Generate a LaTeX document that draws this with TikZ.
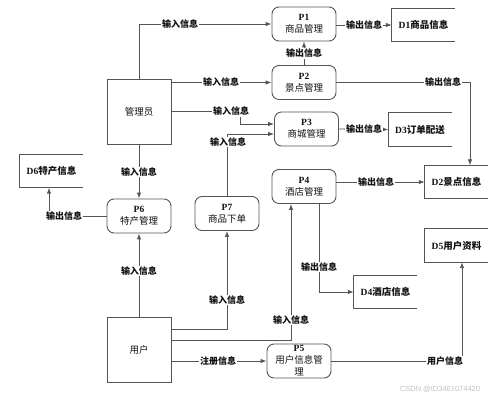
\documentclass[tikz,border=0pt]{standalone}
\usepackage{fontspec}
\setmainfont{Liberation Serif}
\newfontfamily\cjk{Noto Sans CJK SC}
\newfontfamily\wmfont{Liberation Sans}
\usetikzlibrary{arrows.meta}
\definecolor{lc}{HTML}{555555}
\definecolor{tc}{HTML}{111111}
\tikzset{
  conn/.style={draw=lc, line width=0.9pt},
  arr/.style={conn, -{Latex[length=6pt,width=4.5pt]}},
  proc/.style={draw=lc, line width=0.9pt, rounded corners=7pt, minimum width=64pt, minimum height=34pt,
    align=center, inner sep=0pt, text=tc, font=\fontsize{9.5}{12}\selectfont},
  ent/.style={draw=lc, line width=0.9pt, minimum width=64pt, minimum height=65pt, inner sep=0pt,
    text=tc, font=\cjk\fontsize{9.5}{12}\selectfont},
  store/.style={minimum width=63pt, minimum height=33pt, inner sep=0pt, text=tc,
    font=\bfseries\fontsize{9.5}{12}\selectfont},
  lbl/.style={fill=white, inner sep=0.8pt, text=tc, font=\cjk\bfseries\fontsize{9}{10}\selectfont},
}
\newcommand{\opstore}[1]{\draw[conn] (#1.north east) -- (#1.north west) -- (#1.south west) -- (#1.south east);}
\begin{document}
\begin{tikzpicture}[x=1pt,y=-1pt]
\useasboundingbox (0,0) rectangle (499,398);
% entities
\node[ent] (admin) at (139,111.5) {管理员};
\node[ent] (user) at (139,350) {用户};
% processes
\node[proc] (p1) at (304,24) {\textbf{P1}\\{\cjk 商品管理}};
\node[proc] (p2) at (304,82.5) {\textbf{P2}\\{\cjk 景点管理}};
\node[proc] (p3) at (306.5,129) {\textbf{P3}\\{\cjk 商城管理}};
\node[proc] (p4) at (304,186.5) {\textbf{P4}\\{\cjk 酒店管理}};
\node[proc] (p7) at (227,213.5) {\textbf{P7}\\{\cjk 商品下单}};
\node[proc] (p6) at (139,216) {\textbf{P6}\\{\cjk 特产管理}};
\node[proc] (p5) at (299,361) {\textbf{P5}\\{\cjk 用户信息管}\\{\cjk 理}};
% stores
\node[store] (d1) at (423.5,25) {D1{\cjk\bfseries 商品信息}};
\node[store] (d3) at (420,129.5) {D3{\cjk\bfseries 订单配送}};
\node[store] (d2) at (456.5,182) {D2{\cjk\bfseries 景点信息}};
\node[store] (d6) at (51.5,171) {D6{\cjk\bfseries 特产信息}};
\node[store] (d5) at (456.5,245.5) {D5{\cjk\bfseries 用户资料}};
\node[store] (d4) at (385.5,292) {D4{\cjk\bfseries 酒店信息}};
\opstore{d1}\opstore{d3}\opstore{d2}\opstore{d6}\opstore{d5}\opstore{d4}
% connectors
\coordinate (c3) at (240,111.5);
\draw[arr] (admin.north) |- (p1.west);
\draw[arr] (admin.east |- p2.west) -- (p2.west);
\draw[arr] (admin.east) -- (c3) |- ([yshift=5pt]p3.west);
\draw[arr] (p7.north) |- ([yshift=-5pt]p3.west);
\draw[arr] (admin.south) -- (p6.north);
\draw[arr] (p6.west) -| ([xshift=-2.5pt]d6.south);
\draw[arr] (user.north) -- (p6.south);
\draw[arr] ([yshift=21pt]user.east) -| (p7.south);
\draw[arr] ([yshift=10pt]user.east) -| ([xshift=-13pt]p4.south);
\draw[arr] (user.east |- p5.west) -- (p5.west);
\draw[arr] (p5.east) -| ([xshift=5.5pt]d5.south);
\draw[arr] ([xshift=15pt]p4.south) |- (d4.west);
\draw[arr] (p4.east |- d2.west) -- (d2.west);
\draw[arr] (p2.east) -| ([xshift=13.5pt]d2.north);
\draw[arr] (p3.east) -- (d3.west);
\draw[arr] (p1.east |- d1.west) -- (d1.west);
% labels
\node[lbl] (l1) at (180,24) {输入信息};
\node[lbl] (l2) at (221,82.5) {输入信息};
\node[lbl] (l3) at (231,111.5) {输入信息};
\node[lbl] (l4) at (228,142) {输入信息};
\node[lbl] (l5) at (139,172) {输入信息};
\node[lbl] (l6) at (64,216) {输出信息};
\node[lbl] (l7) at (139,271) {输入信息};
\node[lbl] (l8) at (227,300) {输入信息};
\node[lbl] (l9) at (291,320) {输入信息};
\node[lbl] (l10) at (218,361) {注册信息};
\node[lbl] (l11) at (445,361) {用户信息};
\node[lbl] (l12) at (319,267) {输出信息};
\node[lbl] (l13) at (376,182) {输出信息};
\node[lbl] (l14) at (443,82.5) {输出信息};
\node[lbl] (l15) at (364,129) {输出信息};
\node[lbl] (l16) at (364,25) {输出信息};
\node[lbl] (l17) at (304,53.5) {输出信息};
\draw[arr] (l17.north) -- (p1.south);
\draw[conn] (p2.north) -- (l17.south);
\node[text=black!25, font=\wmfont\fontsize{7.5}{9}\selectfont] (wm) at (440,389) {CSDN @ID3461074420};
\end{tikzpicture}
\end{document}
